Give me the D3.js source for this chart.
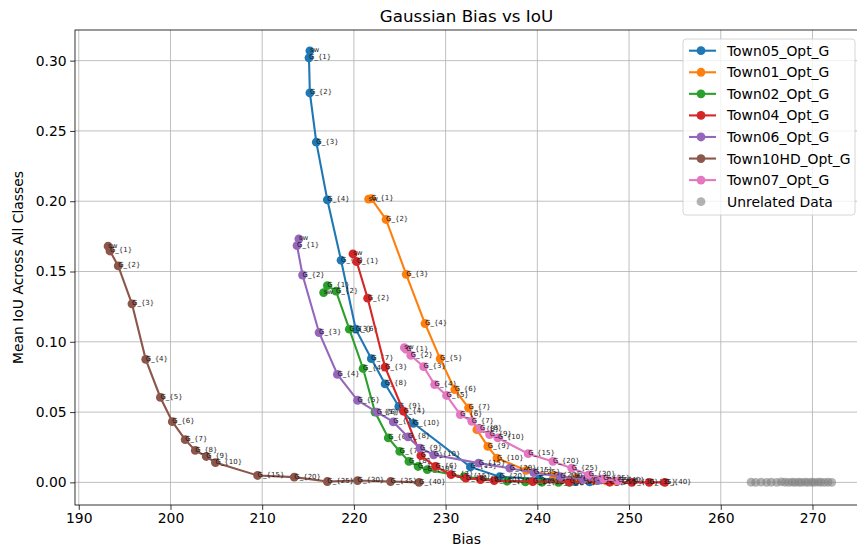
<!DOCTYPE html>
<html lang="en">
<head>
<meta charset="UTF-8" />
<style>
  body { margin: 0; background: #fff; }
  text { font-family: "DejaVu Sans", sans-serif; }
</style>
</head>
<body>
<svg id="chart" width="857" height="550"></svg>
<script src="https://cdn.jsdelivr.net/npm/d3@7"></script>
<script>
// point labels shared by every town series
var pointLabels = ["sw", "G_{1}", "G_{2}", "G_{3}", "G_{4}", "G_{5}", "G_{6}", "G_{7}", "G_{8}", "G_{9}", "G_{10}",
    "G_{15}", "G_{20}", "G_{25}", "G_{30}", "G_{35}", "G_{40}"]

var seriesNames = ["Town05_Opt_G", "Town01_Opt_G", "Town02_Opt_G", "Town04_Opt_G", "Town06_Opt_G", "Town10HD_Opt_G", "Town07_Opt_G"]
var seriesColors = ["#1f77b4", "#ff7f0e", "#2ca02c", "#d62728", "#9467bd", "#8c564b", "#e377c2"]

var town05Bias = [215.2, 215.1, 215.2, 215.9, 217.1, 218.6, 220.2, 221.9, 223.4, 224.9, 226.5, 232.7, 235.9, 240.2, 242.5, 244.1, 245.7]
var town05IoU  = [0.307, 0.302, 0.277, 0.242, 0.201, 0.158, 0.109, 0.088, 0.070, 0.054, 0.042, 0.011, 0.004, 0.0025, 0.0012, 0.0006, 0.0003]

var town01Bias = [221.6, 221.9, 223.5, 225.7, 227.75, 229.4, 231.0, 232.5, 233.4, 234.6, 235.6, 238.8, 241.8, 244.2, 246.2, 247.5, 248.6]
var town01IoU  = [0.2015, 0.2018, 0.187, 0.148, 0.113, 0.088, 0.066, 0.053, 0.0375, 0.0256, 0.0173, 0.0085, 0.005, 0.003, 0.0015, 0.001, 0.0005]

var town02Bias = [216.7, 217.1, 218.05, 219.5, 221.0, 222.3, 223.75, 225.0, 226.0, 227.0, 228.0, 232.0, 236.7, 238.7, 240.5, 242.3, 243.5]
var town02IoU  = [0.135, 0.140, 0.136, 0.109, 0.081, 0.050, 0.0316, 0.022, 0.0149, 0.0113, 0.009, 0.004, 0.0008, 0.0003, 0.0001, 0.0, 0.0]

var town04Bias = [219.9, 220.3, 221.5, 223.4, 225.4, 227.3, 228.9, 230.6, 232.2, 233.8, 235.3, 239.5, 243.5, 247.9, 250.3, 252.2, 253.9]
var town04IoU  = [0.1625, 0.157, 0.131, 0.082, 0.0506, 0.019, 0.0113, 0.0055, 0.003, 0.002, 0.0012, 0.0005, 0.0003, 0.0001, 0.0, 0.0, 0.0]

var town06Bias = [214.0, 213.8, 214.4, 216.2, 218.2, 220.4, 222.5, 224.3, 225.9, 227.2, 228.7, 233.6, 237.0, 239.6, 242.5, 245.0, 246.7]
var town06IoU  = [0.1732, 0.1684, 0.1475, 0.1066, 0.0768, 0.0584, 0.0499, 0.043, 0.0323, 0.0244, 0.0196, 0.0137, 0.0101, 0.007, 0.004, 0.0022, 0.0015]

var town10Bias = [193.2, 193.4, 194.3, 195.8, 197.3, 198.9, 200.2, 201.6, 202.7, 203.9, 204.9, 209.5, 213.5, 217.1, 220.4, 224.0, 227.1]
var town10IoU  = [0.168, 0.1646, 0.154, 0.127, 0.0875, 0.0604, 0.0432, 0.0304, 0.0227, 0.0184, 0.0141, 0.0049, 0.0037, 0.0006, 0.0013, 0.0006, 0.0]

var town07Bias = [225.5, 225.7, 226.2, 227.6, 228.8, 230.1, 231.6, 232.85, 233.75, 234.8, 235.7, 239.0, 241.7, 243.75, 245.6, 247.2, 248.8]
var town07IoU  = [0.0958, 0.0946, 0.0904, 0.0823, 0.0696, 0.0618, 0.0482, 0.0434, 0.038, 0.0339, 0.0316, 0.0204, 0.0149, 0.0101, 0.0054, 0.0025, 0.001]

var unrelatedBias = [263.3, 263.8, 264.4, 265.0, 265.5, 266.1, 266.6, 267.0, 267.4, 267.8, 268.1, 268.5, 268.8, 269.2,
    269.5, 269.9, 270.2, 270.6, 270.9, 271.3, 271.7, 272.1]
var unrelatedIoU = [0.0001, 0.0, 0.0002, 0.0, 0.0001, 0.0, 0.0003, 0.0001, 0.0, 0.0002, 0.0, 0.0001, 0.0, 0.0002,
    0.0, 0.0001, 0.0, 0.0002, 0.0001, 0.0, 0.0001, 0.0]

var xTicks = [190, 200, 210, 220, 230, 240, 250, 260, 270]
var yTicks = [0.00, 0.05, 0.10, 0.15, 0.20, 0.25, 0.30]

var allBias = [town05Bias, town01Bias, town02Bias, town04Bias, town06Bias, town10Bias, town07Bias]
var allIoU = [town05IoU, town01IoU, town02IoU, town04IoU, town06IoU, town10IoU, town07IoU]

var svg = d3.select("#chart")
var margin = { left: 75, right: 862, top: 30, bottom: 505 }

var x = d3.scaleLinear().domain([189.59, 275.4]).range([margin.left, margin.right])
var y = d3.scaleLinear().domain([-0.0161, 0.3218]).range([margin.bottom, margin.top])

svg.append("rect").attr("width", 857).attr("height", 550).attr("fill", "#fff")

// grid
var grid = svg.append("g")
grid.selectAll(".gx").data(xTicks).enter().append("line")
    .attr("x1", d => x(d)).attr("x2", d => x(d))
    .attr("y1", margin.top).attr("y2", margin.bottom)
    .attr("stroke", "#b0b0b0").attr("stroke-width", 0.8)
grid.selectAll(".gy").data(yTicks).enter().append("line")
    .attr("x1", margin.left).attr("x2", margin.right)
    .attr("y1", d => y(d)).attr("y2", d => y(d))
    .attr("stroke", "#b0b0b0").attr("stroke-width", 0.8)

// axes
var xAxis = svg.append("g")
    .attr("transform", "translate(0," + margin.bottom + ")")
    .call(d3.axisBottom(x).tickValues(xTicks).tickFormat(d3.format("d")).tickSize(4.9).tickPadding(3.5))
var yAxis = svg.append("g")
    .attr("transform", "translate(" + margin.left + ",0)")
    .call(d3.axisLeft(y).tickValues(yTicks).tickFormat(d3.format(".2f")).tickSize(4.9).tickPadding(3.5))
svg.selectAll(".domain").remove()
svg.selectAll(".tick text").attr("font-size", "13.9px").attr("fill", "#000")
    .style("font-family", "DejaVu Sans")
svg.selectAll(".tick line").attr("stroke", "#000").attr("stroke-width", 0.8)

// spines
svg.append("rect")
    .attr("x", margin.left).attr("y", margin.top)
    .attr("width", margin.right - margin.left).attr("height", margin.bottom - margin.top)
    .attr("fill", "none").attr("stroke", "#000").attr("stroke-width", 0.8)

// series
var plot = svg.append("g")
var line = d3.line().x(d => x(d[0])).y(d => y(d[1]))

seriesNames.forEach(function (name, s) {
    var pts = allBias[s].map(function (b, i) { return [b, allIoU[s][i], pointLabels[i]] })
    var g = plot.append("g")
    g.append("path").datum(pts).attr("d", line)
        .attr("fill", "none").attr("stroke", seriesColors[s]).attr("stroke-width", 2.1)
    g.selectAll("circle").data(pts).enter().append("circle")
        .attr("cx", d => x(d[0])).attr("cy", d => y(d[1])).attr("r", 4.4)
        .attr("fill", seriesColors[s])
    g.selectAll("text").data(pts).enter().append("text")
        .attr("x", d => x(d[0])).attr("y", d => y(d[1]) + 1.5)
        .attr("font-size", "7px").attr("fill", "#1a1a1a")
        .text(d => d[2])
})

// unrelated data
plot.append("g").selectAll("circle")
    .data(unrelatedBias.map((b, i) => [b, unrelatedIoU[i]]))
    .enter().append("circle")
    .attr("cx", d => x(d[0])).attr("cy", d => y(d[1])).attr("r", 4.4)
    .attr("fill", "#808080").attr("fill-opacity", 0.6)

// title and labels
svg.append("text").attr("x", (margin.left + 858) / 2).attr("y", 22)
    .attr("text-anchor", "middle").attr("font-size", "16.7px").text("Gaussian Bias vs IoU")
svg.append("text").attr("x", (margin.left + 858) / 2).attr("y", 544)
    .attr("text-anchor", "middle").attr("font-size", "13.9px").text("Bias")
svg.append("text").attr("transform", "translate(23," + ((margin.top + margin.bottom) / 2) + ") rotate(-90)")
    .attr("text-anchor", "middle").attr("font-size", "13.9px").text("Mean IoU Across All Classes")

// legend
var legend = svg.append("g").attr("transform", "translate(683,39)")
var legendNames = seriesNames.concat(["Unrelated Data"])
legend.append("rect").attr("width", 172).attr("height", 176).attr("rx", 3)
    .attr("fill", "#fff").attr("fill-opacity", 0.8).attr("stroke", "#cccccc").attr("stroke-width", 0.8)
legendNames.forEach(function (name, i) {
    var ly = 11.7 + i * 21.57
    var item = legend.append("g").attr("transform", "translate(0," + ly + ")")
    if (i < seriesNames.length) {
        item.append("line").attr("x1", 6).attr("x2", 33).attr("y1", 0).attr("y2", 0)
            .attr("stroke", seriesColors[i]).attr("stroke-width", 2.1)
        item.append("circle").attr("cx", 18).attr("cy", 0).attr("r", 4.4).attr("fill", seriesColors[i])
    } else {
        item.append("circle").attr("cx", 18).attr("cy", 0).attr("r", 4.4)
            .attr("fill", "#808080").attr("fill-opacity", 0.6)
    }
    item.append("text").attr("x", 44).attr("y", 5).attr("font-size", "13.9px").text(name)
})
</script>
</body>
</html>
